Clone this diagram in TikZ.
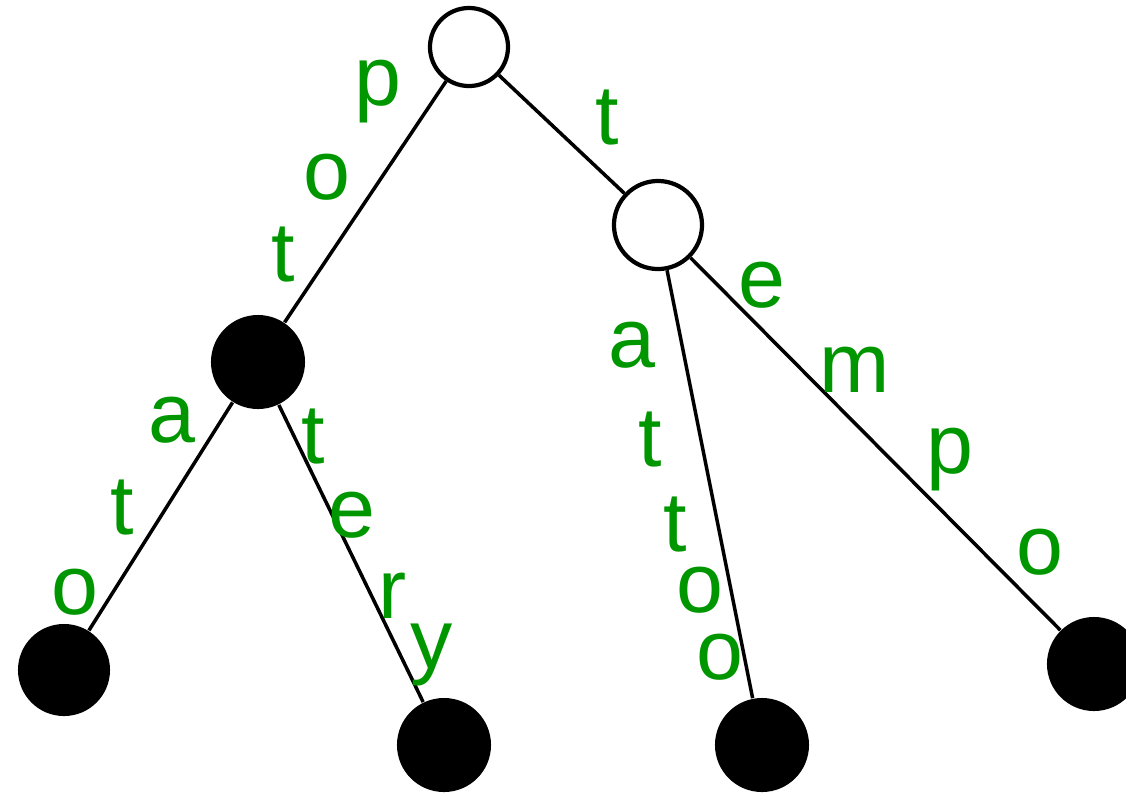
\documentclass[tikz,border=0pt]{standalone}
\usepackage{fontspec}
\setmainfont{Liberation Sans}
\usetikzlibrary{positioning}
\definecolor{lblgreen}{RGB}{0,150,0}

\begin{document}
\begin{tikzpicture}[x=0.01cm, y=-0.01cm,
    empty/.style={circle, draw=black, line width=1.2pt, fill=white, inner sep=0pt},
    full/.style={circle, fill=black, inner sep=0pt},
    letter/.style={text=lblgreen, font=\fontsize{24}{24}\selectfont, inner sep=0pt}]
\useasboundingbox (0,0) rectangle (1126,793);
\begin{scope}
\clip (0,0) rectangle (1126,793);
% inner nodes
\node[empty, minimum size=0.78cm] (root) at (469,47) {};
\node[empty, minimum size=0.88cm] (t) at (658,225) {};
\node[full, minimum size=0.94cm] (pot) at (258,362) {};
% leaves
\node[full, minimum size=0.92cm] (potato) at (64,670) {};
\node[full, minimum size=0.94cm] (pottery) at (444,745) {};
\node[full, minimum size=0.94cm] (tattoo) at (762,745) {};
\node[full, minimum size=0.94cm] (tempo) at (1094,664) {};
% edges
\draw[line width=1pt] (root) -- (pot);
\draw[line width=1pt] (root) -- (t);
\draw[line width=1pt] (pot) -- (potato);
\draw[line width=1pt] (pot) -- (pottery);
\draw[line width=1pt] (t) -- (tattoo);
\draw[line width=1pt] (t) -- (tempo);
\end{scope}
% edge letters
\foreach \c/\x/\y [count=\i] in {p/378/92, o/327/177, t/283/255,
    t/607/118,
    a/172/420, t/122/508, o/75/592,
    t/313/437, e/352/515, r/393/596, y/432/655,
    a/632/345, t/650/440, t/675/525, o/700/590, o/720/657,
    e/762/285, m/855/370, p/950/460, o/1040/552} {
    \node[letter] (l\i) at (\x,\y) {\c};
}
\end{tikzpicture}
\end{document}
